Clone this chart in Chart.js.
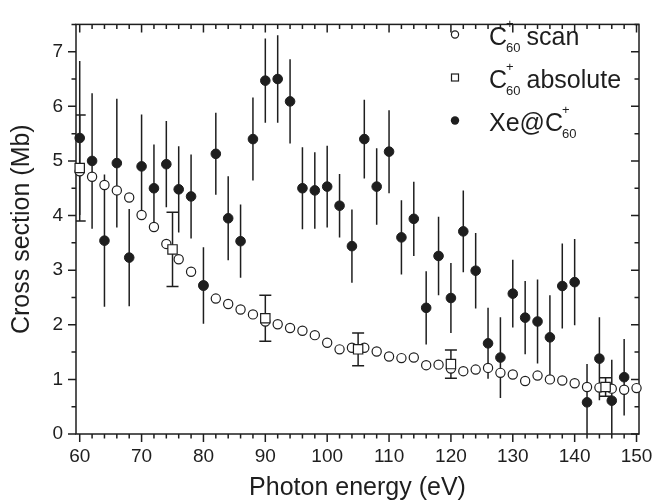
<!DOCTYPE html>
<html>
<head>
<meta charset="utf-8">
<script src="https://cdn.jsdelivr.net/npm/chart.js@4"></script>
<style>
html,body{margin:0;padding:0;background:#fff;}
#box{width:652px;height:503px;position:relative;}
</style>
</head>
<body>
<div id="box"><canvas id="plot"></canvas></div>
<script>
// C60+ scan (open circles)
const scanEnergy = [60,62,64,66,68,70,72,74,76,78,80,82,84,86,88,90,92,94,96,98,100,102,104,106,108,110,112,114,116,118,120,122,124,126,128,130,132,134,136,138,140,142,144,146,148,150];
const scanCs = [4.81,4.71,4.56,4.46,4.33,4.01,3.79,3.48,3.20,2.97,2.72,2.48,2.38,2.28,2.19,2.06,2.01,1.94,1.89,1.81,1.67,1.55,1.58,1.58,1.51,1.42,1.39,1.40,1.26,1.27,1.20,1.15,1.18,1.21,1.12,1.09,0.97,1.07,1.00,0.98,0.93,0.86,0.85,0.83,0.81,0.84];

// C60+ absolute (open squares, capped error bars)
const absEnergy = [60,75,90,105,120,145];
const absCs = [4.87,3.38,2.12,1.55,1.28,0.86];
const absErr = [0.97,0.68,0.42,0.30,0.26,0.17];

// Xe@C60+ (filled circles)
const xeEnergy = [60,62,64,66,68,70,72,74,76,78,80,82,84,86,88,90,92,94,96,98,100,102,104,106,108,110,112,114,116,118,120,122,124,126,128,130,132,134,136,138,140,142,144,146,148];
const xeCs = [5.42,5.00,3.54,4.96,3.23,4.90,4.50,4.94,4.48,4.35,2.72,5.13,3.95,3.53,5.40,6.47,6.50,6.09,4.50,4.46,4.53,4.18,3.44,5.40,4.53,5.17,3.60,3.94,2.31,3.26,2.49,3.71,2.99,1.66,1.40,2.57,2.13,2.06,1.77,2.71,2.78,0.58,1.38,0.61,1.04];
const xeErr = [1.41,1.24,1.21,1.18,0.89,0.95,0.80,0.79,0.79,0.77,0.70,0.75,0.77,0.67,0.76,0.77,0.80,0.77,0.75,0.70,0.75,0.58,0.67,0.72,0.70,0.76,0.68,0.68,0.67,0.72,0.64,0.75,0.69,0.65,0.74,0.62,0.67,0.77,0.77,0.78,0.79,0.70,0.76,0.75,0.70];

const xTicks = [60,70,80,90,100,110,120,130,140,150];
const yTicks = [0,1,2,3,4,5,6,7];

const ink = "#1e1e1e";
const fontFam = "'Liberation Sans', Arial, sans-serif";

const toPts = (xs, ys) => xs.map((v,i) => ({x:v, y:ys[i]}));

// error bars, drawn under the markers
const errorBars = {
    id: "errorBars",
    beforeDatasetsDraw(chart){
        const {ctx, chartArea:a, scales:{x, y}} = chart;
        ctx.save();
        ctx.beginPath();
        ctx.rect(a.left, a.top, a.right - a.left, a.bottom - a.top);
        ctx.clip();
        ctx.strokeStyle = ink;
        ctx.lineWidth = 1.5;
        xeEnergy.forEach((e,i) => {
            const px = x.getPixelForValue(e);
            ctx.beginPath();
            ctx.moveTo(px, y.getPixelForValue(xeCs[i] - xeErr[i]));
            ctx.lineTo(px, y.getPixelForValue(xeCs[i] + xeErr[i]));
            ctx.stroke();
        });
        absEnergy.forEach((e,i) => {
            const px = x.getPixelForValue(e);
            const lo = y.getPixelForValue(absCs[i] - absErr[i]);
            const hi = y.getPixelForValue(absCs[i] + absErr[i]);
            ctx.beginPath();
            ctx.moveTo(px, lo); ctx.lineTo(px, hi);
            ctx.moveTo(px - 6, lo); ctx.lineTo(px + 6, lo);
            ctx.moveTo(px - 6, hi); ctx.lineTo(px + 6, hi);
            ctx.stroke();
        });
        ctx.restore();
    }
};

// box with ticks: out on left/bottom, in on top/right
const frame = {
    id: "frame",
    beforeDatasetsDraw(chart){
        const {ctx, chartArea:a, scales:{x, y}} = chart;
        ctx.save();
        ctx.strokeStyle = ink;
        ctx.lineWidth = 1.5;
        ctx.strokeRect(a.left, a.top, a.right - a.left, a.bottom - a.top);
        ctx.beginPath();
        for(let e = 60; e <= 150; e += 2){
            const px = x.getPixelForValue(e);
            const len = e % 10 === 0 ? 8 : 4.5;
            ctx.moveTo(px, a.bottom); ctx.lineTo(px, a.bottom + len);
            ctx.moveTo(px, a.top); ctx.lineTo(px, a.top + len);
        }
        for(let v = 0; v <= 7.5; v += 0.5){
            const py = y.getPixelForValue(v);
            const len = v % 1 === 0 ? 8 : 4.5;
            ctx.moveTo(a.left, py); ctx.lineTo(a.left - len, py);
            ctx.moveTo(a.right, py); ctx.lineTo(a.right - len, py);
        }
        ctx.stroke();
        ctx.restore();
    }
};

// legend with sub/superscripts
const legendRows = [
    {mark:"open", pre:"C", post:"scan"},
    {mark:"square", pre:"C", post:"absolute"},
    {mark:"filled", pre:"Xe@C", post:""}
];
const fancyLegend = {
    id: "fancyLegend",
    afterDraw(chart){
        const ctx = chart.ctx;
        ctx.save();
        ctx.fillStyle = ink;
        ctx.strokeStyle = ink;
        ctx.lineWidth = 1.2;
        ctx.textBaseline = "alphabetic";
        legendRows.forEach((r,i) => {
            const cy = 34.5 + i * 43;
            const mx = 455;
            ctx.beginPath();
            if(r.mark === "square"){
                ctx.fillStyle = "#fff";
                ctx.fillRect(mx - 3.5, cy - 3.5, 7, 7);
                ctx.strokeRect(mx - 3.5, cy - 3.5, 7, 7);
            } else {
                ctx.arc(mx, cy, r.mark === "filled" ? 4.2 : 3.6, 0, Math.PI * 2);
                if(r.mark === "filled"){ ctx.fillStyle = ink; ctx.fill(); }
                else { ctx.fillStyle = "#fff"; ctx.fill(); ctx.stroke(); }
            }
            ctx.fillStyle = ink;
            const base = cy + 10;
            let tx = 489;
            ctx.font = "25px " + fontFam;
            ctx.fillText(r.pre, tx, base);
            tx += ctx.measureText(r.pre).width;
            ctx.font = "13px " + fontFam;
            ctx.fillText("+", tx - 1, base - 17);
            ctx.fillText("60", tx - 1, base + 7.5);
            tx += ctx.measureText("60").width + 5;
            ctx.font = "25px " + fontFam;
            if(r.post) ctx.fillText(r.post, tx, base);
        });
        ctx.restore();
    }
};

const chart = new Chart(document.getElementById("plot"), {
    type: "scatter",
    data: {
        datasets: [
            {label:"Xe@C60+", data:toPts(xeEnergy, xeCs), order:0, clip:false,
             pointStyle:"circle", pointRadius:4.8, pointBackgroundColor:ink, pointBorderColor:ink, pointBorderWidth:1},
            {label:"C60+ absolute", data:toPts(absEnergy, absCs), order:1, clip:false,
             pointStyle:"rect", pointRadius:6.6, pointBackgroundColor:"#fff", pointBorderColor:ink, pointBorderWidth:1.2},
            {label:"C60+ scan", data:toPts(scanEnergy, scanCs), order:2, clip:false,
             pointStyle:"circle", pointRadius:4.6, pointBackgroundColor:"#fff", pointBorderColor:ink, pointBorderWidth:1.2}
        ]
    },
    options: {
        responsive: true,
        maintainAspectRatio: false,
        animation: false,
        layout: {padding:{top:6, right:13, left:0, bottom:0}},
        plugins: {legend:{display:false}, tooltip:{enabled:false}},
        scales: {
            x: {
                type: "linear", min: 59.4, max: 150.4,
                afterBuildTicks: s => { s.ticks = xTicks.map(v => ({value:v})); },
                grid: {display:false, drawTicks:false},
                border: {display:false},
                ticks: {color:ink, font:{family:fontFam, size:19}, padding:11, maxRotation:0, autoSkip:false},
                title: {display:true, text:"Photon energy (eV)", color:ink, font:{family:fontFam, size:25}, padding:{top:0, bottom:0}},
                afterFit: s => { s.height = 69; s.paddingLeft = 0; s.paddingRight = 0; }
            },
            y: {
                type: "linear", min: 0, max: 7.5,
                afterBuildTicks: s => { s.ticks = yTicks.map(v => ({value:v})); },
                grid: {display:false, drawTicks:false},
                border: {display:false},
                ticks: {color:ink, font:{family:fontFam, size:19}, padding:13},
                title: {display:true, text:"Cross section (Mb)", color:ink, font:{family:fontFam, size:25}, padding:{top:7, bottom:0}},
                afterFit: s => { s.width = 76; }
            }
        }
    },
    plugins: [frame, errorBars, fancyLegend]
});
</script>
</body>
</html>
